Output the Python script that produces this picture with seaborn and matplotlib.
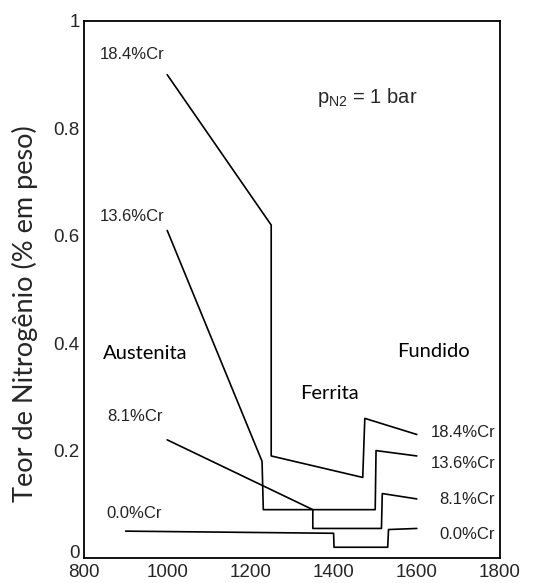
import matplotlib
matplotlib.use("Agg")
import matplotlib.pyplot as plt
import seaborn as sns
import pandas as pd

# Nitrogen solubility in Fe-Cr alloys vs temperature (p_N2 = 1 bar)
temp_184 = [1000, 1250, 1250, 1470, 1475, 1600]
n_184 = [0.90, 0.62, 0.19, 0.15, 0.26, 0.23]
temp_136 = [1000, 1228, 1231, 1500, 1502, 1600]
n_136 = [0.61, 0.18, 0.09, 0.09, 0.20, 0.19]
temp_81 = [1000, 1350, 1350, 1515, 1517, 1600]
n_81 = [0.22, 0.09, 0.055, 0.055, 0.12, 0.11]
temp_00 = [900, 1400, 1401, 1530, 1532, 1600]
n_00 = [0.05, 0.046, 0.02, 0.02, 0.053, 0.055]

series_names = ["18.4%Cr", "13.6%Cr", "8.1%Cr", "0.0%Cr"]
x_ticks = [800, 1000, 1200, 1400, 1600, 1800]
y_ticks = [0, 0.2, 0.4, 0.6, 0.8, 1]
y_tick_labels = ["0", "0.2", "0.4", "0.6", "0.8", "1"]

frames = []
for name, t, n in zip(series_names,
                      [temp_184, temp_136, temp_81, temp_00],
                      [n_184, n_136, n_81, n_00]):
    frames.append(pd.DataFrame({"T": t, "N": n, "serie": name,
                                "ordem": range(len(t))}))
df = pd.concat(frames, ignore_index=True)

sns.set_style("white")
plt.rcParams["font.family"] = ["Liberation Sans", "DejaVu Sans"]
plt.rcParams["mathtext.fontset"] = "custom"
plt.rcParams["mathtext.rm"] = "Liberation Sans"
plt.rcParams["mathtext.it"] = "Liberation Sans"

fig = plt.figure(figsize=(5.33, 5.83), dpi=100)
ax = fig.add_axes([0.1576, 0.0429, 0.7805, 0.9211])

sns.lineplot(data=df, x="T", y="N", units="serie", estimator=None,
             sort=False, color="black", linewidth=1.2, ax=ax, legend=False)

ax.set_xlim(800, 1800)
ax.set_ylim(0, 1)
ax.set_xticks(x_ticks)
ax.set_xticklabels([str(v) for v in x_ticks], fontsize=13.5)
ax.set_yticks(y_ticks)
ax.set_yticklabels(y_tick_labels, fontsize=13.5)
ax.tick_params(axis="both", direction="in", length=6, width=0.8,
               color="#333333", pad=3)
ax.tick_params(axis="x", pad=4.5)
# keep the "0" on the y axis clear of the "800" below it
ax.yaxis.get_major_ticks()[0].label1.set_va("baseline")
for s in ax.spines.values():
    s.set_linewidth(1.3)
    s.set_color("black")

ax.set_xlabel("")
ax.set_ylabel("Teor de Nitrogênio (% em peso)", fontsize=19.5,
              family=["Lato", "DejaVu Sans"])
ax.yaxis.set_label_coords(-0.11, 0.455)

lbl = dict(fontsize=12, color="#222222")
ax.text(838, 0.937, "18.4%Cr", va="center", ha="left", **lbl)
ax.text(838, 0.636, "13.6%Cr", va="center", ha="left", **lbl)
ax.text(855, 0.263, "8.1%Cr", va="center", ha="left", **lbl)
ax.text(853, 0.083, "0.0%Cr", va="center", ha="left", **lbl)
ax.text(1788, 0.233, "18.4%Cr", va="center", ha="right", **lbl)
ax.text(1788, 0.176, "13.6%Cr", va="center", ha="right", **lbl)
ax.text(1788, 0.108, "8.1%Cr", va="center", ha="right", **lbl)
ax.text(1788, 0.043, "0.0%Cr", va="center", ha="right", **lbl)

ax.text(1360, 0.858, r"$\mathrm{p_{N2}}$ = 1 bar", va="center", ha="left",
        fontsize=14.5)

reg = dict(fontsize=14.5, family=["Lato", "DejaVu Sans"], ha="center",
           va="center", color="black")
ax.text(947, 0.381, "Austenita", **reg)
ax.text(1391, 0.307, "Ferrita", **reg)
ax.text(1639, 0.384, "Fundido", **reg)

fig.savefig("out.png", dpi=100)
